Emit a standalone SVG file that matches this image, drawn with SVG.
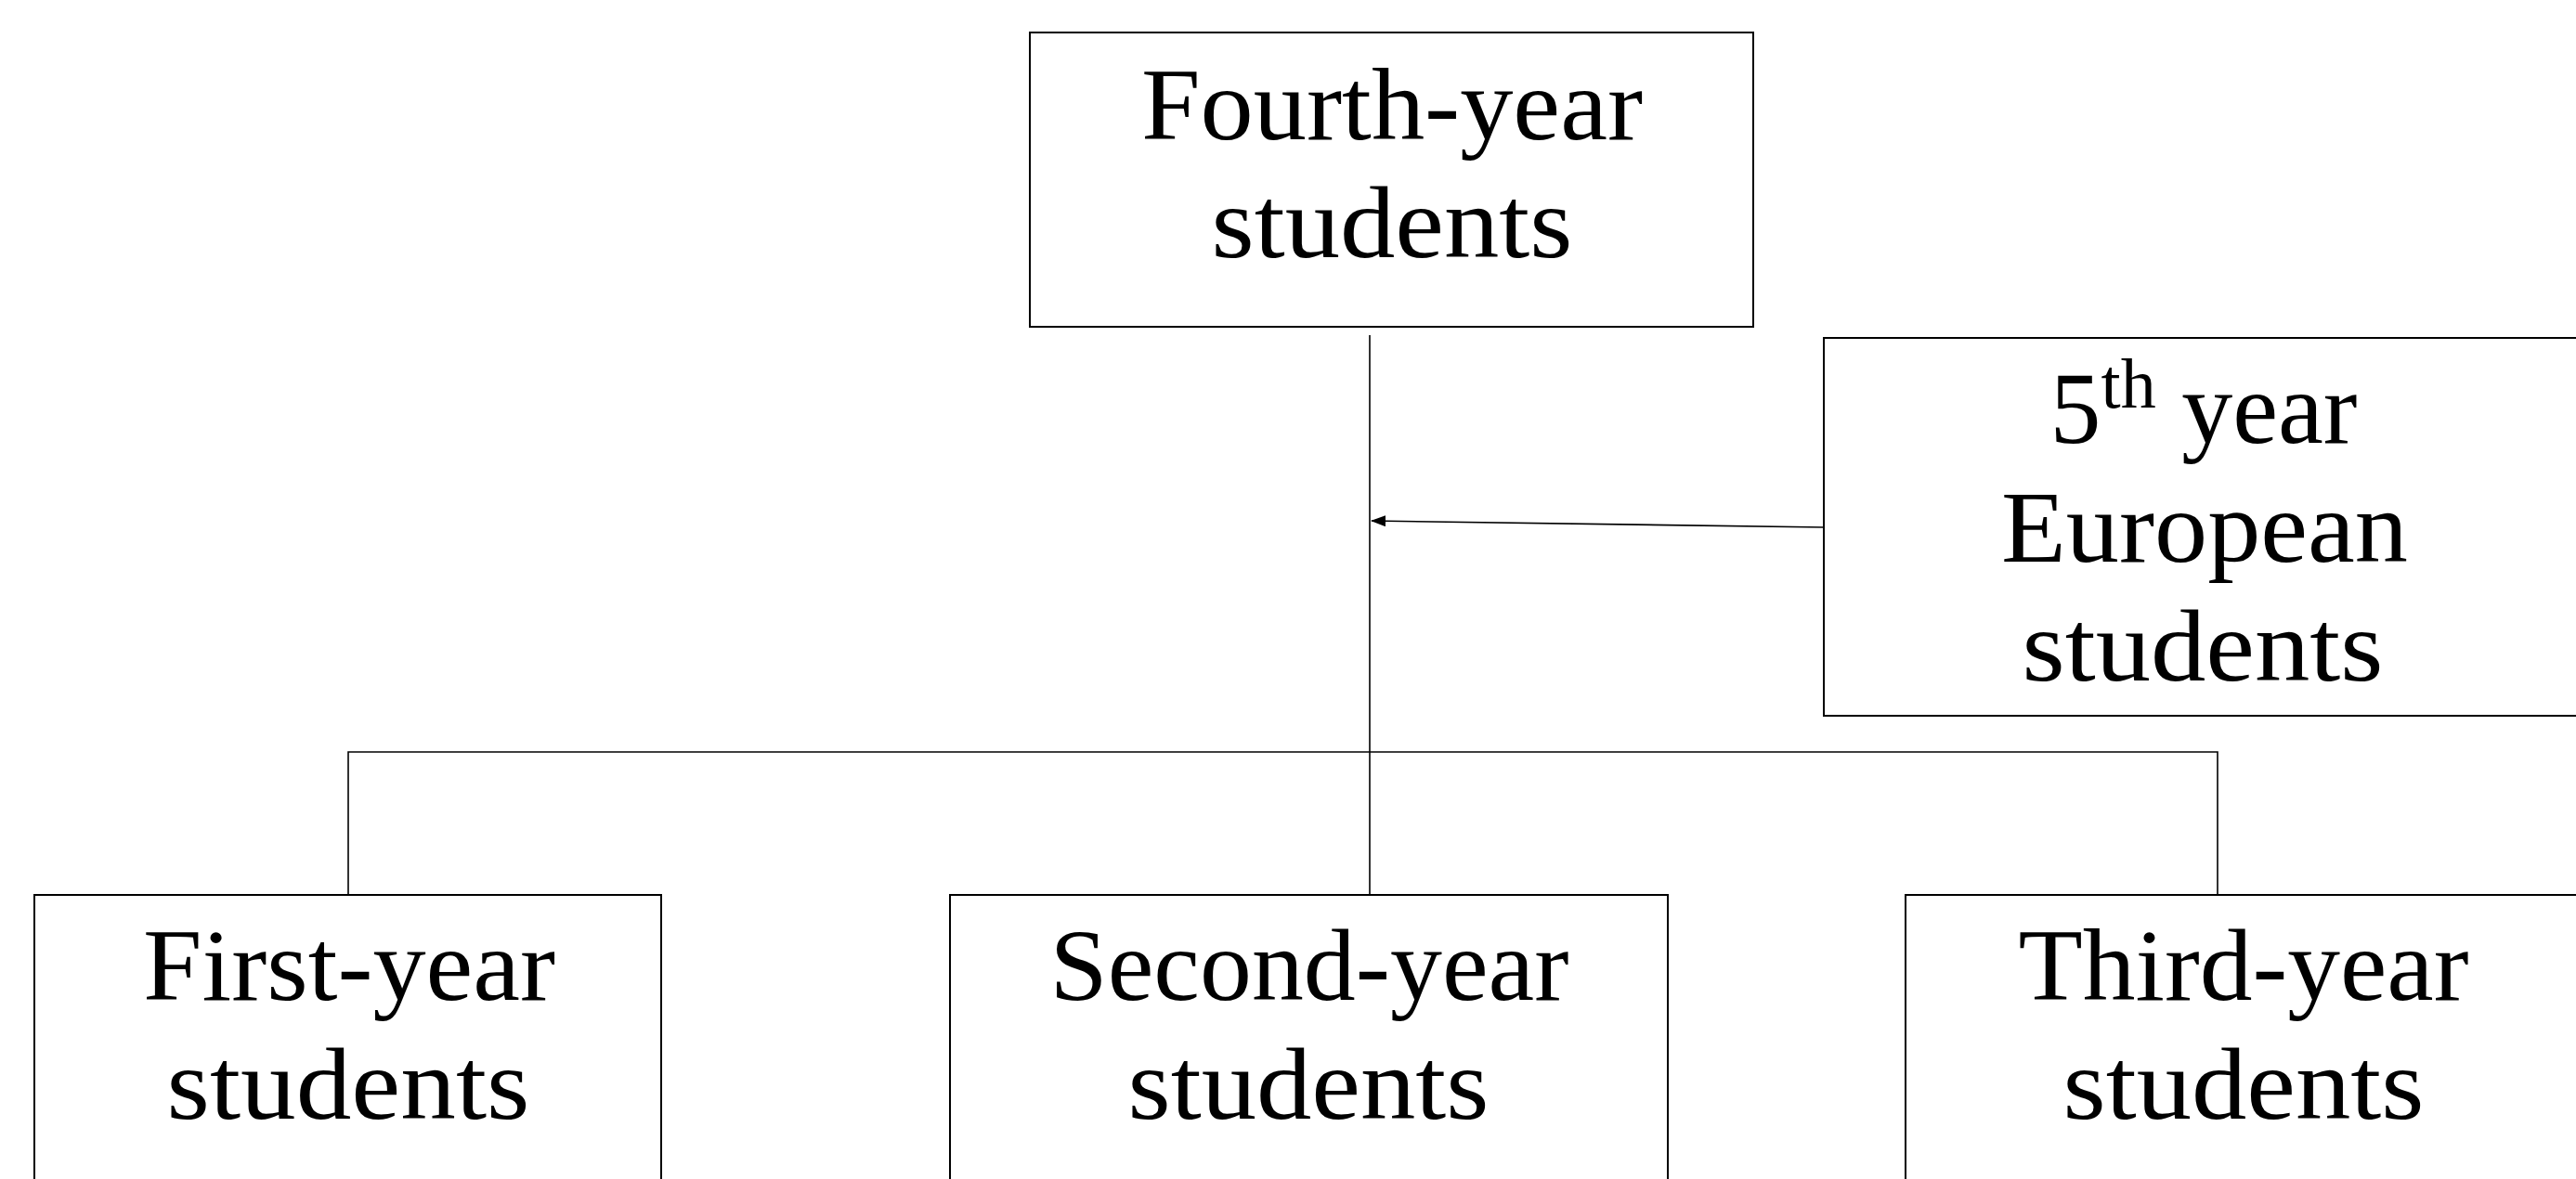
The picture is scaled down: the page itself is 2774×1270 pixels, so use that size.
<svg xmlns="http://www.w3.org/2000/svg" width="2774" height="1270" viewBox="0 0 2774 1270">
<style>
.box{fill:#fff;stroke:#000;stroke-width:2}
.ln{fill:none;stroke:#000;stroke-width:1.6}
.t{font-family:"Liberation Serif","DejaVu Serif",serif;font-size:110px;fill:#000;text-anchor:middle}
</style>
<defs>
<marker id="ah" markerWidth="16" markerHeight="12" refX="15" refY="6" orient="auto" markerUnits="userSpaceOnUse">
<path d="M0,0 L16,6 L0,12 Z" fill="#000"/>
</marker>
</defs>
<rect width="2774" height="1270" fill="#fff"/>
<g id="connectors">
<line class="ln" x1="1475" y1="361" x2="1475" y2="964"/>
<polyline class="ln" points="375,964 375,810 2388,810 2388,964"/>
<line class="ln" x1="1964" y1="568" x2="1477" y2="561" marker-end="url(#ah)"/>
</g>
<g id="fourth">
<rect class="box" x="1109" y="35" width="779" height="317"/>
<text class="t" x="1499" y="150" textLength="540" lengthAdjust="spacingAndGlyphs">Fourth-year</text>
<text class="t" x="1499" y="277" textLength="389" lengthAdjust="spacingAndGlyphs">students</text>
</g>
<g id="fifth">
<rect class="box" x="1964" y="364" width="820" height="407"/>
<text class="t" x="2373" y="477">5<tspan font-size="76" dy="-38">th</tspan><tspan dy="38"> year</tspan></text>
<text class="t" x="2374" y="605" textLength="438" lengthAdjust="spacingAndGlyphs">European</text>
<text class="t" x="2372" y="733" textLength="389" lengthAdjust="spacingAndGlyphs">students</text>
</g>
<g id="first">
<rect class="box" x="37" y="964" width="675" height="320"/>
<text class="t" x="376" y="1077" textLength="444" lengthAdjust="spacingAndGlyphs">First-year</text>
<text class="t" x="375" y="1205" textLength="391" lengthAdjust="spacingAndGlyphs">students</text>
</g>
<g id="second">
<rect class="box" x="1023" y="964" width="773" height="320"/>
<text class="t" x="1410" y="1077" textLength="559" lengthAdjust="spacingAndGlyphs">Second-year</text>
<text class="t" x="1409" y="1205" textLength="389" lengthAdjust="spacingAndGlyphs">students</text>
</g>
<g id="third">
<rect class="box" x="2052" y="964" width="740" height="320"/>
<text class="t" x="2416" y="1077" textLength="485" lengthAdjust="spacingAndGlyphs">Third-year</text>
<text class="t" x="2416" y="1205" textLength="389" lengthAdjust="spacingAndGlyphs">students</text>
</g>
</svg>
